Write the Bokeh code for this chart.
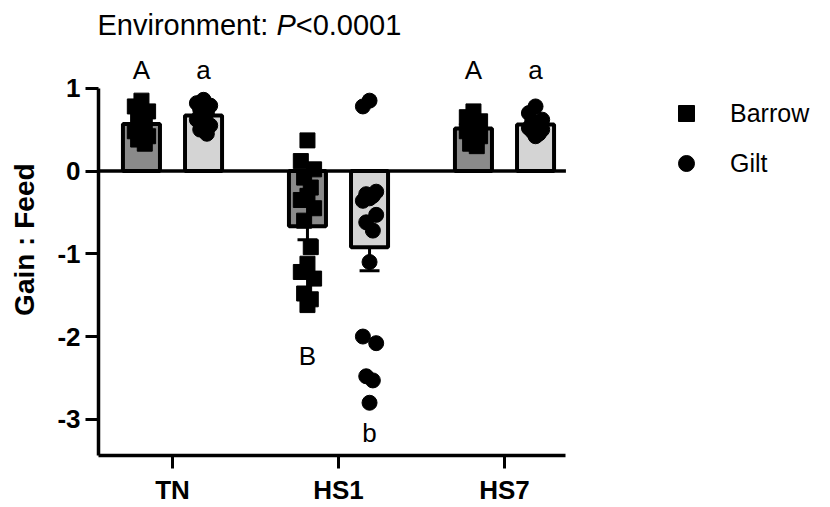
import math
import numpy as np
from bokeh.plotting import figure
from bokeh.models import Range1d, FixedTicker, Label, Legend, LegendItem
from bokeh.embed import file_html
from bokeh.resources import INLINE

# ---------------- data ----------------
groups = ["TN", "HS1", "HS7"]
series_names = ["Barrow", "Gilt"]

tn_barrow = [0.85, 0.78, 0.72, 0.62, 0.58, 0.52, 0.48, 0.42, 0.38, 0.33]
tn_gilt = [0.86, 0.82, 0.79, 0.74, 0.70, 0.67, 0.62, 0.55, 0.50, 0.45]
hs1_barrow = [0.37, 0.12, 0.02, -0.08, -0.20, -0.30, -0.35, -0.45, -0.60,
              -0.92, -1.12, -1.22, -1.30, -1.48, -1.55, -1.62]
hs1_gilt = [0.85, 0.78, -0.25, -0.28, -0.30, -0.33, -0.36, -0.53, -0.62,
            -0.72, -1.10, -2.00, -2.08, -2.48, -2.53, -2.80]
hs7_barrow = [0.72, 0.65, 0.60, 0.57, 0.55, 0.52, 0.48, 0.42, 0.33, 0.30]
hs7_gilt = [0.78, 0.70, 0.62, 0.60, 0.57, 0.55, 0.52, 0.50, 0.48, 0.45, 0.42]

barrow_letters = ["A", "B", "A"]
gilt_letters = ["a", "b", "a"]
y_ticks = [1, 0, -1, -2, -3]
y_tick_labels = ["1", "0", "-1", "-2", "-3"]
title_parts = ["Environment: ", "P", "<0.0001"]
y_label = "Gain : Feed"

barrow_sets = [tn_barrow, hs1_barrow, hs7_barrow]
gilt_sets = [tn_gilt, hs1_gilt, hs7_gilt]

# ---------------- layout ----------------
W, H = 830, 507
FRAME_LEFT = 98
FRAME_BOTTOM_PX = 459
PX_X = 166.0      # pixels per group
PX_Y = 83.5       # pixels per unit
ZERO_PX = 172
TN_PX = 172

x_start = 1 - (TN_PX - FRAME_LEFT) / PX_X
x_end = x_start + (W - FRAME_LEFT) / PX_X
y_start = -(FRAME_BOTTOM_PX - ZERO_PX) / PX_Y
y_end = ZERO_PX / PX_Y
x_axis_end = 3.37

OFF = 0.187
BAR_W = 0.223
FONT = "Liberation Sans"

p = figure(width=W, height=H, x_range=Range1d(x_start, x_end), y_range=Range1d(y_start, y_end),
           output_backend="svg", toolbar_location=None,
           min_border_left=FRAME_LEFT, min_border_right=0, min_border_top=0,
           min_border_bottom=H - FRAME_BOTTOM_PX)
p.outline_line_color = None
p.xgrid.visible = False
p.ygrid.visible = False
p.background_fill_color = "white"
p.border_fill_color = "white"

def stats(v):
    a = np.array(v, dtype=float)
    return a.mean(), a.std(ddof=1) / math.sqrt(len(a))

def jitter(n):
    pattern = [0.0, -0.04, 0.04, -0.02, 0.02]
    return [pattern[i % len(pattern)] for i in range(n)]

centers = [1, 2, 3]
for sets, off, fill in [(barrow_sets, -OFF, "#8a8a8a"), (gilt_sets, OFF, "#d4d4d4")]:
    xs = [c + off for c in centers]
    means = [stats(s)[0] for s in sets]
    p.vbar(x=xs, top=means, bottom=0, width=BAR_W, fill_color=fill,
           line_color="black", line_width=4)

renderers = {}
for sets, off, marker, name in [(barrow_sets, -OFF, "square", "Barrow"),
                                 (gilt_sets, OFF, "circle", "Gilt")]:
    px, py = [], []
    for c, s in zip(centers, sets):
        j = jitter(len(s))
        px += [c + off + d for d in j]
        py += list(s)
    renderers[name] = p.scatter(x=px, y=py, marker=marker, size=15, color="black")

# error bars (away from zero)
for sets, off in [(barrow_sets, -OFF), (gilt_sets, OFF)]:
    ex, e0, e1 = [], [], []
    for c, s in zip(centers, sets):
        m, se = stats(s)
        ex.append(c + off)
        e0.append(m)
        e1.append(m + (se if m > 0 else -se))
    p.segment(x0=ex, x1=ex, y0=e0, y1=e1, line_color="black", line_width=3)
    p.segment(x0=[x - 0.06 for x in ex], x1=[x + 0.06 for x in ex], y0=e1, y1=e1,
              line_color="black", line_width=3)

# zero line
p.segment(x0=[x_start], x1=[x_axis_end], y0=[0], y1=[0], line_color="black", line_width=3.5)

# letters
for sets, letters, off in [(barrow_sets, barrow_letters, -OFF), (gilt_sets, gilt_letters, OFF)]:
    for c, s, L in zip(centers, sets, letters):
        m, _ = stats(s)
        if m > 0:
            ly = 1.22
        else:
            ly = min(s) - (0.62 if off < 0 else 0.36)
        p.add_layout(Label(x=c + off, y=ly, text=L, text_font=FONT, text_font_size="26px",
                           text_align="center", text_baseline="middle", text_color="black"))

# axes
yax = p.yaxis[0]
yax.ticker = FixedTicker(ticks=y_ticks)
yax.major_label_overrides = {t: s for t, s in zip(y_ticks, y_tick_labels)}
yax.bounds = (y_start, 1)
yax.axis_line_width = 3.5
yax.major_tick_line_width = 3
yax.major_tick_out = 13
yax.major_tick_in = 0
yax.minor_tick_line_color = None
yax.major_label_text_font = FONT
yax.major_label_text_font_style = "bold"
yax.major_label_text_font_size = "26px"
yax.major_label_text_color = "black"
yax.major_label_standoff = 5
yax.axis_label = y_label + "\u00a0\u00a0\u00a0"
yax.axis_label_text_font = FONT
yax.axis_label_text_font_style = "bold"
yax.axis_label_text_font_size = "28px"
yax.axis_label_text_color = "black"
yax.axis_label_standoff = 14

xax = p.xaxis[0]
xax.ticker = FixedTicker(ticks=centers)
xax.major_label_overrides = {c: g for c, g in zip(centers, groups)}
xax.bounds = (x_start, x_axis_end)
xax.axis_line_width = 3.5
xax.major_tick_line_width = 3
xax.major_tick_out = 13
xax.major_tick_in = 0
xax.minor_tick_line_color = None
xax.major_label_text_font = FONT
xax.major_label_text_font_style = "bold"
xax.major_label_text_font_size = "26px"
xax.major_label_text_color = "black"
xax.major_label_standoff = 6

# title with italic P
widths = {"E": .667, "n": .556, "v": .5, "i": .222, "r": .333, "o": .556, "m": .833, "e": .556,
          "t": .278, ":": .278, " ": .278, "P": .667, "<": .584, "0": .556, ".": .278, "1": .556}
TFS = 29
tx = x_start + (97 - FRAME_LEFT) / PX_X
ty = (ZERO_PX - 25) / PX_Y
for part in title_parts:
    p.add_layout(Label(x=tx, y=ty, text=part, text_font=FONT, text_font_size=f"{TFS}px",
                       text_font_style="italic" if part == "P" else "normal",
                       text_align="left", text_baseline="middle", text_color="black"))
    tx += sum(widths.get(ch, .556) for ch in part) * TFS / PX_X

legend = Legend(items=[LegendItem(label=series_names[0], renderers=[renderers["Barrow"]]),
                       LegendItem(label=series_names[1], renderers=[renderers["Gilt"]])],
                location=(568, 272), glyph_width=40, glyph_height=40,
                spacing=10, padding=0, margin=0, label_standoff=24,
                label_text_font=FONT, label_text_font_size="25px", label_text_color="black",
                border_line_color=None, background_fill_alpha=0)
p.add_layout(legend, "center")

open("out.html", "w").write(file_html(p, INLINE))
